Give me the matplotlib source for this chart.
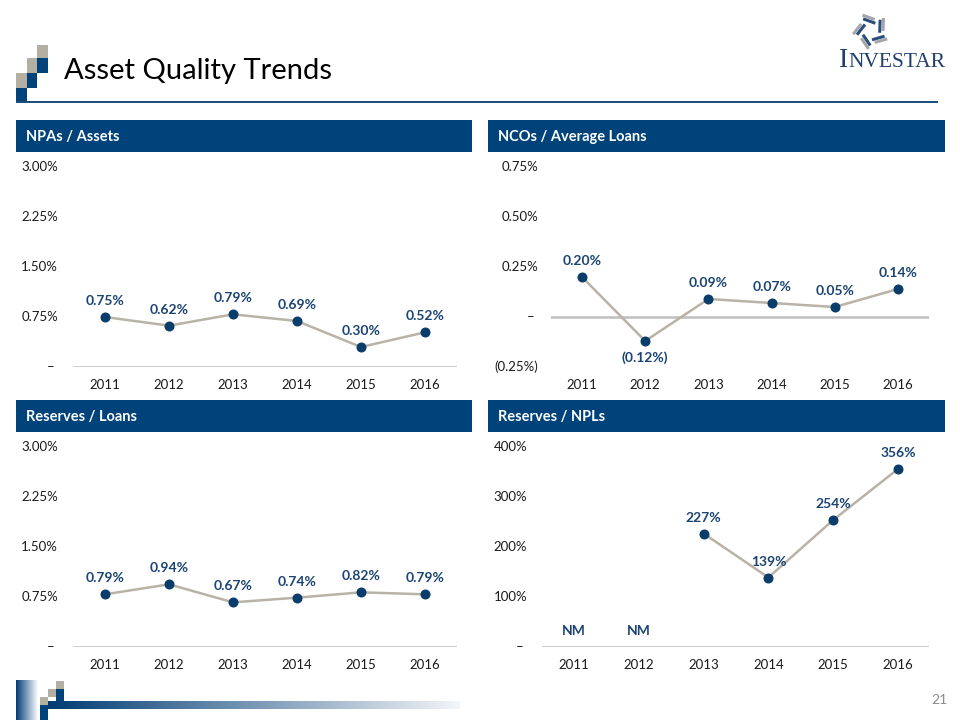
import matplotlib
matplotlib.use("Agg")
import matplotlib.pyplot as plt
import matplotlib.patches as mpatches
import matplotlib.transforms as mtrans
import numpy as np

plt.rcParams['font.family'] = ['Lato', 'DejaVu Sans']

# ---------------- data ----------------
years = ["2011", "2012", "2013", "2014", "2015", "2016"]
npa_assets = [0.75, 0.62, 0.79, 0.69, 0.30, 0.52]
nco_avg_loans = [0.20, -0.12, 0.09, 0.07, 0.05, 0.14]
reserves_loans = [0.79, 0.94, 0.67, 0.74, 0.82, 0.79]
reserves_npls = [np.nan, np.nan, 227, 139, 254, 356]

npa_labels = ["0.75%", "0.62%", "0.79%", "0.69%", "0.30%", "0.52%"]
nco_labels = ["0.20%", "(0.12%)", "0.09%", "0.07%", "0.05%", "0.14%"]
rl_labels = ["0.79%", "0.94%", "0.67%", "0.74%", "0.82%", "0.79%"]
rn_labels = ["NM", "NM", "227%", "139%", "254%", "356%"]

pct_ticks = [0, 0.75, 1.50, 2.25, 3.00]
pct_ticklabels = ["– ", "0.75%", "1.50%", "2.25%", "3.00%"]
nco_ticks = [-0.25, 0, 0.25, 0.50, 0.75]
nco_ticklabels = ["(0.25%)", "– ", "0.25%", "0.50%", "0.75%"]
npl_ticks = [0, 100, 200, 300, 400]
npl_ticklabels = ["– ", "100%", "200%", "300%", "400%"]

titles = ["NPAs / Assets", "NCOs / Average Loans", "Reserves / Loans", "Reserves / NPLs"]

# ---------------- style ----------------
W, H = 960, 720
NAVY = "#00427A"
LABEL_BLUE = "#1B4472"
MARK = "#0A3D6B"
LINE = "#B8B3A6"
BASE = "#BFBFBF"
GRAY_SQ = "#B3AFA3"

fig = plt.figure(figsize=(9.6, 7.2), dpi=100)
fig.patch.set_facecolor("white")


def fx(x):
    return x / W


def fy(y):
    return 1 - y / H


def rect(x0, y0, x1, y1, color, **kw):
    fig.add_artist(mpatches.Rectangle((fx(x0), fy(y1)), (x1 - x0) / W, (y1 - y0) / H,
                                      transform=fig.transFigure, facecolor=color,
                                      edgecolor="none", **kw))


def gradient(x0, y0, x1, y1, c0, c1):
    ax = fig.add_axes([fx(x0), fy(y1), (x1 - x0) / W, (y1 - y0) / H])
    c0 = np.array(matplotlib.colors.to_rgb(c0))
    c1 = np.array(matplotlib.colors.to_rgb(c1))
    t = np.linspace(0, 1, 256)[None, :, None]
    img = c0 + (c1 - c0) * t
    ax.imshow(img, aspect="auto", extent=(0, 1, 0, 1))
    ax.set_axis_off()


# ---------------- title block ----------------
sq = [(37, 45, 48, 58, GRAY_SQ),
      (27, 58, 37, 73, GRAY_SQ), (37, 58, 48, 73, NAVY),
      (16, 73, 27, 88, GRAY_SQ), (27, 73, 37, 88, NAVY),
      (16, 88, 27, 102, NAVY)]
for s in sq:
    rect(*s)
rect(16, 101, 938, 103, "#1F4E79")
fig.text(fx(64), fy(71), "Asset Quality Trends", fontsize=21, color="#000000",
         ha="left", va="center")

# ---------------- logo ----------------
cx, cy, r = 871, 31, 12
for i in range(5):
    ang = np.deg2rad(100 + i * 72)
    px, py = cx + r * np.cos(ang), cy - r * np.sin(ang)
    d = ang - np.pi / 2 - np.deg2rad(30)
    for k, col in enumerate(["#2A4D7A", "#A3A6AA"]):
        off = (k - 0.5) * 3.8
        qx = px + off * np.cos(ang)
        qy = py - off * np.sin(ang)
        L2 = 6.5
        xs = [fx(qx - L2 * np.cos(d)), fx(qx + L2 * np.cos(d))]
        ys = [fy(qy + L2 * np.sin(d)), fy(qy - L2 * np.sin(d))]
        fig.add_artist(matplotlib.lines.Line2D(xs, ys, transform=fig.transFigure,
                                               color=col, lw=2.2, solid_capstyle="butt"))
fig.text(fx(839), fy(67), "I", fontsize=20, color="#1F3F6E", family="Liberation Serif",
         ha="left", va="baseline")
fig.text(fx(848), fy(67), "NVESTAR", fontsize=15.5, color="#1F3F6E", family="Liberation Serif",
         ha="left", va="baseline")

# ---------------- footer ----------------
gradient(16, 680, 38, 720, "#003C74", "#FFFFFF")
rect(56, 681, 64, 689, GRAY_SQ)
rect(48, 689, 56, 697, GRAY_SQ)
rect(56, 689, 64, 701, NAVY)
rect(40, 697, 48, 705, GRAY_SQ)
rect(40, 705, 48, 720, NAVY)
gradient(48, 701, 460, 709, "#003C74", "#F3F5F8")
fig.text(fx(948), fy(700), "21", fontsize=10, color="#8C8C8C", ha="right", va="center")

# ---------------- panels ----------------
panels = [
    dict(bar=(16, 120, 472, 152), ax=(73, 457), x0=105, dx=64, ybox=(367, 167),
         ylim=(0, 3.0), ticks=pct_ticks, tlabels=pct_ticklabels, tl_x=58,
         vals=npa_assets, labels=npa_labels, below=[]),
    dict(bar=(488, 120, 945, 152), ax=(551, 929), x0=582, dx=63.2, ybox=(367, 167),
         ylim=(-0.25, 0.75), ticks=nco_ticks, tlabels=nco_ticklabels, tl_x=538,
         vals=nco_avg_loans, labels=nco_labels, below=[1]),
    dict(bar=(16, 400, 472, 432), ax=(73, 457), x0=105, dx=64, ybox=(647, 447),
         ylim=(0, 3.0), ticks=pct_ticks, tlabels=pct_ticklabels, tl_x=58,
         vals=reserves_loans, labels=rl_labels, below=[]),
    dict(bar=(488, 400, 945, 432), ax=(542, 929), x0=574, dx=64.8, ybox=(647, 447),
         ylim=(0, 400), ticks=npl_ticks, tlabels=npl_ticklabels, tl_x=527,
         vals=reserves_npls, labels=rn_labels, below=[]),
]

for p, title in zip(panels, titles):
    bx0, by0, bx1, by1 = p["bar"]
    rect(bx0, by0, bx1, by1, NAVY)
    fig.text(fx(bx0 + 10), fy((by0 + by1) / 2 + 1), title, fontsize=10.5, fontweight="bold",
             color="white", ha="left", va="center")

    L, R = p["ax"]
    yb, yt = p["ybox"]
    ax = fig.add_axes([fx(L), fy(yb), (R - L) / W, (yb - yt) / H])
    ax.set_axis_off()
    xl = (L - p["x0"]) / p["dx"]
    xr = (R - p["x0"]) / p["dx"]
    ax.set_xlim(xl, xr)
    ax.set_ylim(*p["ylim"])

    xs = np.arange(len(years))
    ax.axhline(0, color=BASE, lw=1.8, zorder=1)
    ax.plot(xs, p["vals"], color=LINE, lw=1.8, zorder=2, clip_on=False)
    ax.plot(xs, p["vals"], linestyle="none", marker="o", ms=6.2, color=MARK,
            zorder=3, clip_on=False)

    for i, (v, lab) in enumerate(zip(p["vals"], p["labels"])):
        yv = 0 if np.isnan(v) else v
        off = -17 if i in p["below"] else 16
        ax.annotate(lab, (i, yv), xytext=(0, off), textcoords="offset pixels",
                    ha="center", va="center", fontsize=10, fontweight="bold",
                    color=LABEL_BLUE, annotation_clip=False)

    for i, y in enumerate(years):
        ax.annotate(y, (i, p["ylim"][0]), xytext=(0, -18), textcoords="offset pixels",
                    ha="center", va="center", fontsize=9.5, color="#1A1A1A",
                    annotation_clip=False)

    tr = mtrans.blended_transform_factory(fig.transFigure, ax.transData)
    for t, tl in zip(p["ticks"], p["tlabels"]):
        fig.text(fx(p["tl_x"]), t, tl, transform=tr, fontsize=9.5, color="#1A1A1A",
                 ha="right", va="center")

fig.savefig("out.png", dpi=100)
